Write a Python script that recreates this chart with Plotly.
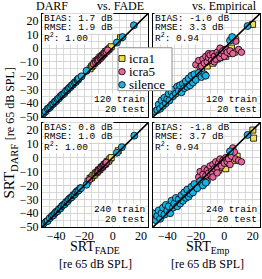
import plotly.graph_objects as go

# ---------------- data ----------------
# Top-left: DARF vs FADE (120 train)
icra1_x_tl = [-16, -15, -14, -13, -12, -11, -10, -9, -8, -7, -6, -5, -4, -3, -2, -1, 5.5]
icra1_y_tl = [-15, -13.5, -12.5, -11, -9.5, -9, -8, -6.5, -6, -5, -4, -2.5, -2, -1, 0, 1, 7.5]
icra5_x_tl = [-13.5, -12, -11, -10.5, -10, -9, -8.5, -8, -7.5, -6.5, -6, -5.5, -4.5, -3.5]
icra5_y_tl = [-11.5, -10.5, -9, -9.5, -8.5, -7, -7.5, -6.5, -5.5, -5, -4, -3.5, -3, -1.5]
sil_x_tl = [-49, -47.5, -46, -45, -44, -43, -42, -41, -40, -39, -38, -37, -36, -35, -34, -33,
            -32, -31, -30, -29, -28, -27, -26, -25, -24.5, -24, -22, -18.5, 3, 7, 15]
sil_y_tl = [-47.5, -46, -44, -43.5, -42.5, -41, -40.5, -39, -38.5, -37, -36.5, -35, -34, -33.5, -32.5, -31,
            -30.5, -29, -28.5, -27, -26.5, -25, -24.5, -23, -23, -22, -20.5, -16.5, 4, 8, 16.5]

# Top-right: DARF vs Empirical (120 train)
icra1_x_tr = [-16, -14, -12, -10, -8, -7, -5, -4, -3, -2, -1, 0, 1, 2, 3, 5, 7, 8, 19.8]
icra1_y_tr = [-17, -12, -13, -9, -11, -6, -8, -4, -7, -3, -5, -1, -6, -2, -4, 0, -3, 6, 17.2]
icra5_x_tr = [-20, -18, -17, -16, -15, -14, -13, -12, -11, -11, -10, -9, -8, -7, -7, -6, -5, -4,
              -3, -3, -2, -1, 0, 1, 2, 4, 6, 8, 10, 12]
icra5_y_tr = [-12, -9, -14, -13, -8, -11, -6, -10, -7, -4, -5, -9, -4, -6, -10, -8, -3, -5,
              0, -7, -4, -2, -6, -1, -3, -2, -4, 5, -1, -3]
sil_x_tr = [-49, -47, -46, -45, -44, -43, -42, -41, -40, -39, -38.5, -37, -36, -35, -34, -33, -32, -31,
            -30, -29, -28, -27, -26, -25, -24, -23, -22, -21, -20, -18, -16, -14, -13, 4, 5.5, 16.3]
sil_y_tr = [-46, -45, -41, -44, -38, -42, -36, -40, -37, -33, -38, -32, -35, -30, -33, -28, -31, -27,
            -32, -26, -29, -24, -28, -22, -27, -20, -25, -19, -23, -18, -21, -19, -20, 5.5, 8, 16]

# Bottom-left: DARF vs FADE (240 train)
icra1_x_bl = [-17.5, -16, -15, -14, -13, -12, -11, -10, -9, -8, -7, -6, -5, -4, -3, -2, -1, 4]
icra1_y_bl = [-17, -15, -14.5, -13, -12.5, -11, -10.5, -9, -8.5, -7, -6.5, -5, -4.5, -3, -2.5, -1, 0, 5]
icra5_x_bl = [-16.5, -11, -10.5, -10, -9, -8.5, -8, -7, -6.5, -6, -5, -4.5]
icra5_y_bl = [-16, -10, -10, -9, -8, -7.5, -7, -6.5, -5.5, -5, -4.5, -3.5]
sil_x_bl = [-49, -47, -46, -44.5, -43, -42, -41, -40, -39, -38, -37, -36, -35, -34, -33, -32,
            -31, -30, -29, -28, -27, -26, -25, -24, -23, -22.5, -18.5, 3, 6.5, 15.3]
sil_y_bl = [-47.5, -46, -45.5, -43.5, -42, -41.5, -40, -39, -38.5, -37, -36.5, -35, -34, -33.5, -32, -31.5,
            -30, -29, -28.5, -27, -26.5, -25, -24, -23.5, -22, -22, -19.5, 3.5, 7.5, 15.8]

# Bottom-right: DARF vs Empirical (240 train)
icra1_x_br = [-17, -15, -13, -11, -9, -8, -6, -5, -4, -3, -2, -1, 0, 1, 2, 3, 5, 7, 9, 20, 20.5]
icra1_y_br = [-19, -14, -15, -11, -13, -8, -10, -6, -9, -4, -7, -3, -5, -8, -2, -4, 3, -2, 1, 19.8, 14]
icra5_x_br = [-18, -17, -16, -15, -14, -13, -12, -11, -10, -9, -8, -7, -6, -5, -4, -3, -2,
              -1, 0, 1, 2, 3, 4, 5, 6, 7, 8, 10, 12, -12, -8, -5]
icra5_y_br = [-14, -10, -16, -12, -8, -13, -9, -11, -6, -10, -5, -8, -3, -7, -4, -1, -6,
              -2, -4, 0, -3, -1, -5, 1, 7, 4, -1, -2, -3, -17, -14, -11]
sil_x_br = [-50, -48, -47, -46, -45, -44, -43, -42, -41, -40, -39, -38, -37, -36, -35, -34, -33, -32,
            -31, -30, -29, -28, -27, -26, -25, -24, -23, -22, -21, -19, -17, -15, -13, 4, 16.3]
sil_y_br = [-40, -45, -42, -38, -44, -40, -36, -41, -34, -38, -35, -40, -31, -36, -33, -29, -35, -30,
            -33, -27, -31, -25, -29, -23, -28, -26, -21, -25, -19, -22, -17, -20, -18, 4.5, 16.3]

series_names = ["icra1", "icra5", "silence"]
tick_x = [-40, -20, 0, 20]
tick_y = [-50, -40, -30, -20, -10, 0, 10, 20]
ax_range = [-50, 25]
diag = [-50, 25]

stats = {
    1: ("BIAS: 1.7 dB", "RMSE: 1.9 dB", "R<sup>2</sup>: 1.00", "120 train", "20 test"),
    2: ("BIAS: -1.0 dB", "RMSE: 3.3 dB", "R<sup>2</sup>: 0.94", "120 train", "20 test"),
    3: ("BIAS: 0.8 dB", "RMSE: 1.0 dB", "R<sup>2</sup>: 1.00", "240 train", "20 test"),
    4: ("BIAS: -1.8 dB", "RMSE: 3.7 dB", "R<sup>2</sup>: 0.94", "240 train", "20 test"),
}

panels = {
    1: (icra1_x_tl, icra1_y_tl, icra5_x_tl, icra5_y_tl, sil_x_tl, sil_y_tl),
    2: (icra1_x_tr, icra1_y_tr, icra5_x_tr, icra5_y_tr, sil_x_tr, sil_y_tr),
    3: (icra1_x_bl, icra1_y_bl, icra5_x_bl, icra5_y_bl, sil_x_bl, sil_y_bl),
    4: (icra1_x_br, icra1_y_br, icra5_x_br, icra5_y_br, sil_x_br, sil_y_br),
}

# ---------------- styling ----------------
W, H = 262, 279
SERIF = "Liberation Serif"
MONO = "Liberation Mono"
C_Y, C_P, C_B = "#f4e04a", "#e8649c", "#17b3e6"
GRID = "#d2d2d2"

def px_x(a, b):
    return [a / W, b / W]

def px_y(top, bot):
    return [1 - bot / H, 1 - top / H]

dom_x = {1: px_x(42, 148), 2: px_x(153, 260), 3: px_x(42, 148), 4: px_x(153, 260)}
dom_y = {1: px_y(14, 120), 2: px_y(14, 120), 3: px_y(126, 233), 4: px_y(126, 233)}

def fmt(v):
    return f"\u2212{-v}" if v < 0 else str(v)

fig = go.Figure()
for k in range(1, 5):
    xa = "x" if k == 1 else f"x{k}"
    ya = "y" if k == 1 else f"y{k}"
    x1, y1, x5, y5, xs, ys = panels[k]
    fig.add_trace(go.Scatter(x=x1, y=y1, mode="markers", name=series_names[0],
                             showlegend=False, xaxis=xa, yaxis=ya,
                             marker=dict(symbol="square", size=6, color=C_Y,
                                         line=dict(color="black", width=0.8))))
    fig.add_trace(go.Scatter(x=x5, y=y5, mode="markers", name=series_names[1],
                             showlegend=False, xaxis=xa, yaxis=ya,
                             marker=dict(symbol="circle", size=6.5, color=C_P,
                                         line=dict(color="black", width=0.8))))
    fig.add_trace(go.Scatter(x=xs, y=ys, mode="markers", name=series_names[2],
                             showlegend=False, xaxis=xa, yaxis=ya,
                             marker=dict(symbol="circle", size=7, color=C_B,
                                         line=dict(color="black", width=0.8))))
    fig.add_trace(go.Scatter(x=diag, y=diag, mode="lines", showlegend=False, hoverinfo="skip",
                             xaxis=xa, yaxis=ya, line=dict(color="black", width=1.5)))

    axkw = dict(range=ax_range, showline=True, mirror=True, linecolor="black", linewidth=1,
                showgrid=True, gridcolor=GRID, gridwidth=0.8, zeroline=False,
                ticks="", tickfont=dict(family=SERIF, size=12, color="black"),
                minor=dict(dtick=5, tick0=0, showgrid=True, gridcolor=GRID, gridwidth=0.8))
    xkw = dict(axkw, domain=dom_x[k], tickmode="array", tickvals=tick_x,
               ticktext=[fmt(v) for v in tick_x], showticklabels=(k >= 3), anchor=ya)
    ykw = dict(axkw, domain=dom_y[k], tickmode="array", tickvals=tick_y,
               ticktext=[fmt(v) for v in tick_y], showticklabels=(k in (1, 3)), anchor=xa)
    fig.update_layout({("xaxis" if k == 1 else f"xaxis{k}"): xkw,
                       ("yaxis" if k == 1 else f"yaxis{k}"): ykw})
    try:
        fig.update_layout({("xaxis" if k == 1 else f"xaxis{k}"): dict(ticklabelstandoff=-3)})
    except Exception:
        pass

    s = stats[k]
    for txt, yy in zip(s[:3], [0.955, 0.865, 0.772]):
        fig.add_annotation(text=txt, xref=f"{xa} domain", yref=f"{ya} domain", x=0.005, y=yy,
                           xanchor="left", yanchor="middle", showarrow=False,
                           font=dict(family=MONO, size=9.5, color="black"),
                           bgcolor="rgba(255,255,255,0.85)", borderpad=0)
    for txt, yy in zip(s[3:], [0.165, 0.075]):
        fig.add_annotation(text=txt, xref=f"{xa} domain", yref=f"{ya} domain", x=0.985, y=yy,
                           xanchor="right", yanchor="middle", showarrow=False,
                           font=dict(family=MONO, size=9.5, color="black"),
                           bgcolor="rgba(255,255,255,0.85)", borderpad=0)

# legend (drawn as a keyed box)
LX0, LY0, LX1, LY1 = 118, 49, 172, 93
fig.add_shape(type="rect", xref="paper", yref="paper",
              x0=LX0 / W, x1=LX1 / W, y0=1 - LY1 / H, y1=1 - LY0 / H,
              fillcolor="white", line=dict(color="#8c8c8c", width=1), layer="above")
key_y = [60, 73.5, 87]
key_col = [C_Y, C_P, C_B]
mx = 122
for i, name in enumerate(series_names):
    cy = key_y[i]
    r = 3.0 if i == 0 else 3.3
    fig.add_shape(type="rect" if i == 0 else "circle", xref="paper", yref="paper",
                  x0=(mx - r) / W, x1=(mx + r) / W, y0=1 - (cy + r) / H, y1=1 - (cy - r) / H,
                  fillcolor=key_col[i], line=dict(color="black", width=0.8), layer="above")
    fig.add_annotation(text=name, xref="paper", yref="paper", x=127 / W, y=1 - cy / H,
                       xanchor="left", yanchor="middle", showarrow=False,
                       font=dict(family=SERIF, size=13, color="black"))

# titles
fig.add_annotation(text="DARF", xref="paper", yref="paper", x=34 / W, y=1 - 6 / H,
                   xanchor="left", yanchor="middle", showarrow=False,
                   font=dict(family=SERIF, size=12, color="black"))
fig.add_annotation(text="vs. FADE", xref="paper", yref="paper", x=146 / W, y=1 - 6 / H,
                   xanchor="right", yanchor="middle", showarrow=False,
                   font=dict(family=SERIF, size=12, color="black"))
fig.add_annotation(text="vs. Empirical", xref="paper", yref="paper", x=259 / W, y=1 - 6 / H,
                   xanchor="right", yanchor="middle", showarrow=False,
                   font=dict(family=SERIF, size=12, color="black"))

# axis titles
for cx, lab in [(95, "SRT<sub>FADE</sub>"), (207, "SRT<sub>Emp</sub>")]:
    fig.add_annotation(text=lab, xref="paper", yref="paper", x=cx / W, y=1 - 254 / H,
                       xanchor="center", yanchor="middle", showarrow=False,
                       font=dict(family=SERIF, size=14, color="black"))
    fig.add_annotation(text="[re 65 dB SPL]", xref="paper", yref="paper", x=cx / W, y=1 - 271 / H,
                       xanchor="center", yanchor="middle", showarrow=False,
                       font=dict(family=SERIF, size=12, color="black"))
fig.add_annotation(text="SRT<sub>DARF</sub> <span style='font-size:12px'>[re 65 dB SPL]</span>",
                   xref="paper", yref="paper", x=10 / W, y=1 - 137 / H, textangle=-90,
                   xanchor="center", yanchor="middle", showarrow=False,
                   font=dict(family=SERIF, size=15, color="black"))

fig.update_layout(
    width=W, height=H, margin=dict(l=0, r=0, t=0, b=0),
    paper_bgcolor="white", plot_bgcolor="white", showlegend=False,
)

fig.write_html("out.html", config={"displayModeBar": False, "staticPlot": True},
               post_script="document.body.style.margin='0';document.body.style.overflow='hidden';")
